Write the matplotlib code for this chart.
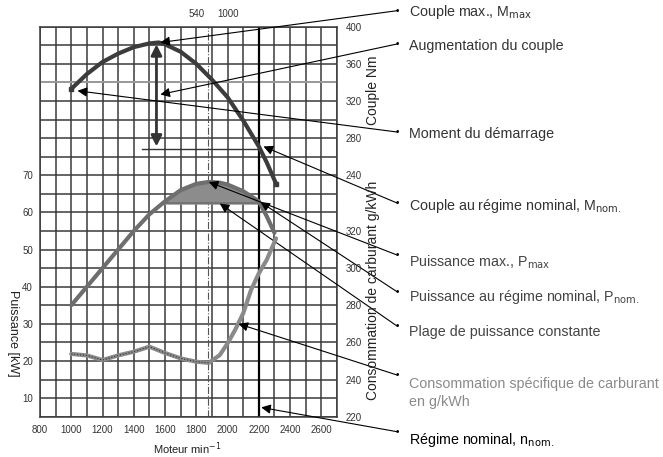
import matplotlib.pyplot as plt
import numpy as np

plt.rcParams['font.family'] = ['Liberation Sans', 'DejaVu Sans']

# engine speed (min-1) and curves
rpm_torque = [1000, 1100, 1200, 1300, 1400, 1500, 1560, 1600, 1700, 1800, 1900, 2000, 2100, 2200, 2250, 2310]
torque = [333, 349, 362, 371, 378, 382, 383, 381, 373, 360, 343, 324, 299, 271, 254, 231]

rpm_power = [1000, 1100, 1200, 1300, 1400, 1500, 1600, 1700, 1800, 1880, 1950, 2000, 2100, 2200, 2250, 2300]
power = [35, 40, 45, 50, 55, 59.5, 63, 66, 67.7, 68.2, 68, 67.5, 65.7, 63, 59, 54.5]

rpm_cons = [1000, 1100, 1200, 1300, 1400, 1500, 1600, 1700, 1800, 1880, 1950, 2000, 2050, 2100, 2150, 2200, 2250, 2310]
cons = [253.8, 253.0, 250.5, 253.0, 255.0, 257.7, 254.3, 251.4, 249.6, 249.0, 253.2, 259.5, 267, 275.7, 288.2, 297.2, 304.4, 316]

const_power = 62.4          # upper limit of the constant power range
const_range = [1590, 2200]
n_nom = 2200
n_pto = 1875

x_ticks = list(range(800, 2601, 200))
p_ticks = list(range(10, 71, 10))
t_ticks = list(range(240, 401, 40))
c_ticks = list(range(220, 321, 20))

W, H = 663, 457
fig = plt.figure(figsize=(W / 100, H / 100), dpi=100)
ax = fig.add_axes([40 / W, (H - 416.7) / H, 297 / W, 390 / H])

grid_c = '#3a3a3a'
ax.set_xlim(800, 2700)
ax.set_ylim(5, 110)
ax.set_xticks(np.arange(800, 2701, 100), minor=True)
ax.set_yticks(np.arange(5, 111, 5), minor=True)
ax.set_xticks(x_ticks)
ax.set_yticks(p_ticks)
ax.grid(which='both', color=grid_c, lw=1.1)
ax.tick_params(which='both', length=0, labelsize=7, labelcolor='#333333')
ax.tick_params(axis='x', pad=6)
ax.tick_params(axis='y', pad=5)
for s in ax.spines.values():
    s.set_color(grid_c)
    s.set_linewidth(1.1)
ax.set_axisbelow(True)

# lighter line at 360 Nm
ax.axhline(95, color='#a0a0a0', lw=1.3, zorder=1)

ax.axvline(n_nom, color='black', lw=1.6, zorder=2)
ax.axvline(n_pto, color='#555555', lw=0.8, ls='-.', zorder=2)
ax.text(n_pto - 70, 112, '540', ha='center', va='bottom', fontsize=7, color='#333333')
ax.text(n_pto + 130, 112, '1000', ha='center', va='bottom', fontsize=7, color='#333333')

# power curve and constant power range
ax.plot(rpm_power, power, color='#6e6e6e', lw=3, solid_capstyle='round', zorder=4)
xp = np.linspace(const_range[0], const_range[1], 60)
yp = np.interp(xp, rpm_power, power)
ax.fill_between(xp, const_power, yp, color='#8c8c8c', zorder=3)
ax.plot(const_range, [const_power, const_power], color='#6e6e6e', lw=1.2, zorder=3)

fig.text(13 / W, 1 - 333 / H, 'Puissance [kW]', rotation=270, ha='center', va='center',
         fontsize=9, color='#222222')
fig.text(187 / W, 1 - 449 / H, 'Moteur min$^{-1}$', ha='center', va='center',
         fontsize=8, color='#222222')

# torque axis
axt = ax.twinx()
axt.set_ylim(-20, 400)
axt.set_yticks(t_ticks)
axt.tick_params(length=0, labelsize=7, labelcolor='#333333', pad=6)
for s in axt.spines.values():
    s.set_visible(False)
axt.plot(rpm_torque, torque, color='#3c3c3c', lw=3, solid_capstyle='round', zorder=4)
axt.plot([rpm_torque[0], rpm_torque[-1]], [torque[0], torque[-1]], 's', ms=3, color='#3c3c3c')
axt.plot([1455, n_nom], [torque[13] - 3, torque[13] - 3], color='#333333', lw=1)
axt.annotate('', xy=(1545, 381), xytext=(1545, 271),
             arrowprops=dict(arrowstyle='<|-|>', color='#333333', lw=2, mutation_scale=16,
                             shrinkA=0, shrinkB=0))
fig.text(373 / W, 1 - 90 / H, 'Couple Nm', rotation=90, ha='center', va='center',
         fontsize=10, color='#222222')

# fuel consumption axis
axc = ax.twinx()
axc.set_ylim(220, 430)
axc.set_yticks(c_ticks)
axc.tick_params(length=0, labelsize=7, labelcolor='#333333', pad=6)
for s in axc.spines.values():
    s.set_visible(False)
axc.plot(rpm_cons, cons, color='#8a8a8a', lw=3, solid_capstyle='round', zorder=4)
axc.plot(rpm_cons[:10], cons[:10], color='#333333', lw=0.8, ls=':', zorder=5)
fig.text(373 / W, 1 - 290 / H, 'Consommation de carburant g/kWh', rotation=90,
         ha='center', va='center', fontsize=10, color='#222222')

# callouts: text, colour, text y, dot y (pixels from top), axis and point
callouts = [
    ('Couple max., M$_{\\mathrm{max}}$', '#333333', 12, 10.7, axt, (1570, 383)),
    ('Augmentation du couple', '#333333', 46, 44, axt, (1570, 327)),
    ('Moment du démarrage', '#333333', 134, 132, axt, (1040, 331)),
    ('Couple au régime nominal, M$_{\\mathrm{nom.}}$', '#333333', 206, 203, axt, (2230, 271)),
    ('Puissance max., P$_{\\mathrm{max}}$', '#444444', 262, 255, ax, (1880, 68.2)),
    ('Puissance au régime nominal, P$_{\\mathrm{nom.}}$', '#444444', 297, 291.7, ax, (2210, 62.8)),
    ('Plage de puissance constante', '#444444', 332, 326, ax, (1950, const_power)),
    ('Consommation spécifique de carburant\nen g/kWh', '#8a8a8a', 393, 375, axc, (2070, 270)),
    ('Régime nominal, n$_{\\mathrm{nom.}}$', '#000000', 440, 431.7, ax, (2215, 7.5)),
]
for label, col, ty, dy, a, pt in callouts:
    a.annotate('', xy=pt, xycoords='data', xytext=(397, H - dy), textcoords='figure pixels',
               annotation_clip=False,
               arrowprops=dict(arrowstyle='-|>', color='black', lw=0.8, mutation_scale=14,
                               shrinkA=0, shrinkB=0), zorder=6)
    fig.text(397 / W, 1 - dy / H, '•', ha='center', va='center', fontsize=7, color='black')
    fig.text(409 / W, 1 - ty / H, label, ha='left', va='center', fontsize=10.3, color=col,
             linespacing=1.45)

fig.savefig('out.png', dpi=100)
